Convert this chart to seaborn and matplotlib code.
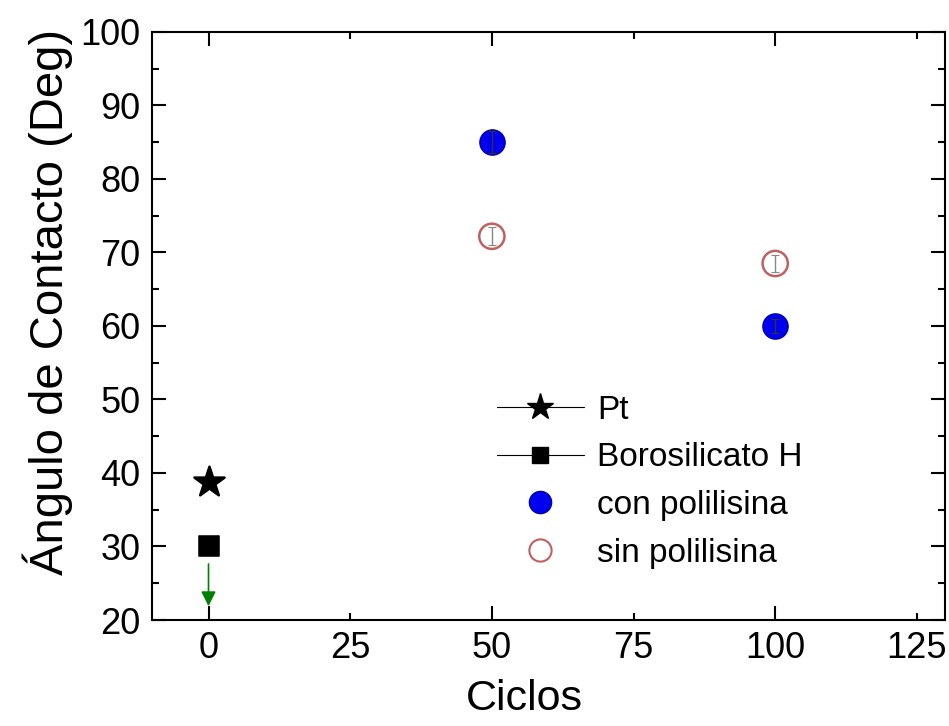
import matplotlib
matplotlib.use("Agg")
import matplotlib.pyplot as plt
import seaborn as sns
import pandas as pd
from matplotlib.lines import Line2D
from matplotlib.ticker import MultipleLocator, FixedLocator, FixedFormatter

# ---- data ----
pt_x = [0]
pt_y = [38.8]
boro_x = [0]
boro_y = [30.0]
con_x = [50, 100]
con_y = [85.0, 60.0]
con_err = [1.5, 1.0]
sin_x = [50, 100]
sin_y = [72.2, 68.5]
sin_err = [1.2, 1.2]
arrow_start = (0, 28.0)
arrow_end = (0, 21.5)
x_major = [0, 50, 100]
x_minor = [25, 75, 125]

sns.set_theme(style="white")
plt.rcParams['font.family'] = ['Liberation Sans', 'DejaVu Sans']
plt.rcParams['text.color'] = 'black'
plt.rcParams['axes.labelcolor'] = 'black'
plt.rcParams['xtick.color'] = 'black'
plt.rcParams['ytick.color'] = 'black'

fig = plt.figure(figsize=(9.49, 7.26), dpi=100)
ax = fig.add_axes([0.160, 0.146, 0.836, 0.810])

df_con = pd.DataFrame({"x": con_x, "y": con_y})
df_sin = pd.DataFrame({"x": sin_x, "y": sin_y})
df_pt = pd.DataFrame({"x": pt_x, "y": pt_y})
df_boro = pd.DataFrame({"x": boro_x, "y": boro_y})

# error bars
ax.errorbar(con_x, con_y, yerr=con_err, fmt='none', ecolor='#333333', elinewidth=1, capsize=3, capthick=0.8, zorder=4)
ax.errorbar(sin_x, sin_y, yerr=sin_err, fmt='none', ecolor='#888888', elinewidth=1, capsize=3, capthick=0.8, zorder=4)

sns.scatterplot(data=df_con, x="x", y="y", ax=ax, marker='o', s=330,
                color='#0000ee', edgecolor='#0000aa', linewidth=1, zorder=3, legend=False)
sns.scatterplot(data=df_sin, x="x", y="y", ax=ax, marker='o', s=330,
                facecolor='none', edgecolor='#c06060', linewidth=1.8, zorder=3, legend=False)
sns.scatterplot(data=df_pt, x="x", y="y", ax=ax, marker='*', s=520,
                color='black', edgecolor='black', zorder=3, legend=False)
sns.scatterplot(data=df_boro, x="x", y="y", ax=ax, marker='s', s=200,
                color='black', edgecolor='black', zorder=3, legend=False)

ax.annotate("", xy=arrow_end, xytext=arrow_start,
            arrowprops=dict(arrowstyle='-|>', color='green', lw=1.2, mutation_scale=22))

ax.set_xlim(-10, 130)
ax.set_ylim(20, 100)

ax.xaxis.set_major_locator(FixedLocator(x_major))
ax.xaxis.set_minor_locator(FixedLocator(x_minor))
ax.xaxis.set_minor_formatter(FixedFormatter([str(v) for v in x_minor]))
ax.yaxis.set_major_locator(MultipleLocator(10))
ax.yaxis.set_minor_locator(MultipleLocator(5))

ax.tick_params(which='both', direction='in', top=True, right=True, bottom=True, left=True,
               color='black', width=1.5, labelcolor='black')
ax.tick_params(which='major', length=10, labelsize=26, pad=8)
ax.tick_params(which='minor', length=5, labelsize=26, pad=8)
ax.tick_params(axis='y', which='minor', labelleft=False)

for s in ax.spines.values():
    s.set_color('black')
    s.set_linewidth(1.5)

ax.set_xlabel("Ciclos", fontsize=31, color='black')
ax.set_ylabel("Ángulo de Contacto (Deg)", fontsize=34, color='black')
ax.xaxis.set_label_coords(0.47, -0.10)
ax.yaxis.set_label_coords(-0.10, 0.54)

handles = [
    Line2D([0], [0], color='black', lw=0.8, marker='*', markersize=20, markerfacecolor='black'),
    Line2D([0], [0], color='black', lw=0.8, marker='s', markersize=11, markerfacecolor='black'),
    Line2D([0], [0], color='none', marker='o', markersize=16, markerfacecolor='#0000ee', markeredgecolor='#0000aa'),
    Line2D([0], [0], color='none', marker='o', markersize=16, markerfacecolor='none', markeredgecolor='#c06060', markeredgewidth=1.5),
]
labels = ["Pt", "Borosilicato H", "con polilisina", "sin polilisina"]
ax.legend(handles, labels, loc='upper left', bbox_to_anchor=(0.435, 0.383), frameon=False,
          fontsize=24, handlelength=2.6, handletextpad=0.4, labelspacing=0.5, borderaxespad=0,
          borderpad=0)

fig.savefig("out.png", dpi=100)
